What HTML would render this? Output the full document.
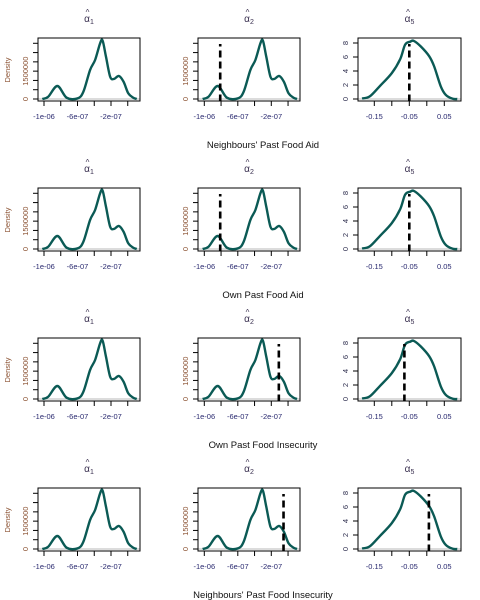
<!DOCTYPE html>
<html><head><meta charset="utf-8"><style>
html,body{margin:0;padding:0;background:#fff;}
svg{display:block;font-family:"Liberation Sans",Arial,sans-serif;}
</style></head><body>
<svg id="c" width="480" height="600" xmlns="http://www.w3.org/2000/svg"></svg>
<script>
// Density of alpha1 / alpha2 (x in raw units, y in density)
const a12X = [-1.02e-6,-9.5e-7,-8.4e-7,-7.3e-7,-6.0e-7,-5.3e-7,-4.5e-7,-3.9e-7,-3.3e-7,-3.0e-7,-2.6e-7,-2.1e-7,-1.65e-7,-1.05e-7,-5e-8,7e-9,6.6e-8,1.07e-7];
const a12Y = [0,0.12e6,0.7e6,0.07e6,0.03e6,0.39e6,1.56e6,2.1e6,3.0e6,3.14e6,2.28e6,1.2e6,1.08e6,1.24e6,0.93e6,0.3e6,0.07e6,0];
// Density of alpha5
const a5X = [-0.185,-0.163,-0.135,-0.1,-0.076,-0.062,-0.047,-0.037,-0.017,0.007,0.021,0.04,0.054,0.073,0.087];
const a5Y = [0.07,0.37,1.8,3.7,5.7,7.76,8.2,8.3,7.5,6.1,4.66,1.8,0.6,0.05,0];
// Dashed reference lines per row: [alpha2 value, alpha5 value]
const refA2 = [null,-8.1e-7,-8.1e-7,-1.1e-7,-5.4e-8];
const refA5 = [-0.05,-0.05,-0.064,0.006];
const refA2Rows = [-8.1e-7,-8.1e-7,-1.1e-7,-5.4e-8];
const a12Ticks = [-1e-6,-8e-7,-6e-7,-4e-7,-2e-7,0];
const a12TickLabels = ["-1e-06","","-6e-07","","-2e-07",""];
const a12YTicks = [0,5e5,1e6,1.5e6,2e6,2.5e6,3e6];
const a12YTickLabels = ["0","","","1500000","","",""];
const a5Ticks = [-0.15,-0.1,-0.05,0,0.05];
const a5TickLabels = ["-0.15","","-0.05","","0.05"];
const a5YTicks = [0,2,4,6,8];
const a5YTickLabels = ["0","2","4","6","8"];
const rowCaptions = ["Neighbours' Past Food Aid","Own Past Food Aid","Own Past Food Insecurity","Neighbours' Past Food Insecurity"];

const svg = document.getElementById('c');
const NS = 'http://www.w3.org/2000/svg';
function mk(tag, attrs, parent){const e=document.createElementNS(NS,tag);for(const k in attrs)e.setAttribute(k,attrs[k]);(parent||svg).appendChild(e);return e;}
function pathFrom(pts){
  let d='M'+pts[0][0].toFixed(2)+','+pts[0][1].toFixed(2);
  for(let i=0;i<pts.length-1;i++){
    const p0=pts[i-1]||pts[i],p1=pts[i],p2=pts[i+1],p3=pts[i+2]||p2;
    const c1=[p1[0]+(p2[0]-p0[0])/6,p1[1]+(p2[1]-p0[1])/6];
    const c2=[p2[0]-(p3[0]-p1[0])/6,p2[1]-(p3[1]-p1[1])/6];
    d+='C'+c1[0].toFixed(2)+','+c1[1].toFixed(2)+' '+c2[0].toFixed(2)+','+c2[1].toFixed(2)+' '+p2[0].toFixed(2)+','+p2[1].toFixed(2);
  }
  return d;
}
const panels=[
  {left:38,right:140,kind:'a12',x0:44,sub:'1'},
  {left:198,right:300,kind:'a12',x0:204.3,sub:'2'},
  {left:358,right:461,kind:'a5',x0:374.3,sub:'5'}
];
for(let r=0;r<4;r++){
  const oy=r*150;
  const top=38+oy,bot=101+oy,base=99+oy;
  panels.forEach((p,pi)=>{
    const g=mk('g',{});
    
    
    const isA=p.kind==='a12';
    const xs=isA?(v=>p.x0+(v+1e-6)/4e-7*33.5):(v=>p.x0+(v+0.15)/0.1*35);
    const ys=isA?(v=>base-v/1e6*18.57):(v=>base-v*7);
    // title
    const cx=(p.left+p.right)/2;
    const t=mk('text',{x:cx,y:22+oy,'font-size':'10','text-anchor':'middle',fill:'#3a3050'},g);
    
    t.textContent='α';
    const ts=mk('tspan',{dy:'2','font-size':'7'},t);ts.textContent=p.sub;
    const hat=mk('text',{x:cx-1.5,y:15+oy,'font-size':'8','text-anchor':'middle',fill:'#3a3050'},g);
    hat.textContent='^';
    // baseline
    const bl=mk('line',{x1:p.left,x2:p.right,y1:base,y2:base,stroke:'#b8b8b8','stroke-width':1},g);
    
    // curve
    const X=isA?a12X:a5X,Y=isA?a12Y:a5Y;
    const pts=X.map((v,i)=>[xs(v),ys(Y[i])]);
    const cv=mk('path',{d:pathFrom(pts),fill:'none',stroke:'#0b5a55','stroke-width':2.4,'stroke-linejoin':'round'},g);
    
    // dashed ref
    let rv=null;
    if(pi===1)rv=refA2Rows[r];
    if(pi===2)rv=refA5[r];
    if(rv!==null){
      const dl=mk('line',{x1:xs(rv),x2:xs(rv),y1:bot+0.5,y2:top+6,stroke:'#000','stroke-width':2.6,'stroke-dasharray':'7,4'},g);
      
    }
    // box
    const bx=mk('rect',{x:p.left,y:top,width:p.right-p.left,height:bot-top,fill:'none',stroke:'#000','stroke-width':1},g);
    
    // x ticks
    const XT=isA?a12Ticks:a5Ticks,XL=isA?a12TickLabels:a5TickLabels;
    XT.forEach((v,i)=>{
      const x=xs(v);
      mk('line',{x1:x,x2:x,y1:bot,y2:bot+5,stroke:'#000','stroke-width':1},g);
      if(XL[i]){const l=mk('text',{x:x,y:119+oy,'font-size':'7.5','text-anchor':'middle',fill:'#2a2a70'},g);
        l.textContent=XL[i];}
    });
    // y ticks
    const YT=isA?a12YTicks:a5YTicks,YL=isA?a12YTickLabels:a5YTickLabels;
    YT.forEach((v,i)=>{
      const y=ys(v);
      mk('line',{x1:p.left-5,x2:p.left,y1:y,y2:y,stroke:'#000','stroke-width':1},g);
      if(YL[i]){const lx=p.left-10;const l=mk('text',{x:lx,y:y,'font-size':'7.5','text-anchor':'middle',fill:isA?'#8a5030':'#303050',transform:'rotate(-90 '+lx+' '+y+')'},g);
        l.textContent=YL[i];}
    });
    if(pi===0){
      const d=mk('text',{x:10,y:70+oy,'font-size':'7.5','text-anchor':'middle',fill:'#8a5030',transform:'rotate(-90 10 '+(70+oy)+')'},g);
      d.textContent='Density';
    }
  });
  const c=mk('text',{x:263,y:148+oy,'font-size':'9.5','text-anchor':'middle',fill:'#111'});
  
  c.textContent=rowCaptions[r];
}
</script>
</body></html>
